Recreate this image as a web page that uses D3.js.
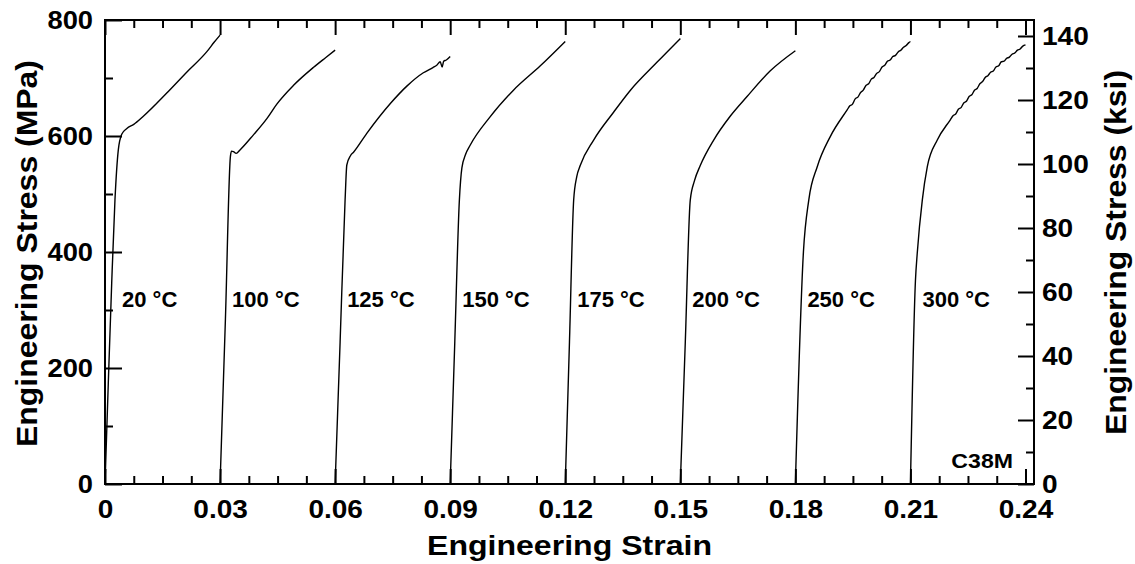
<!DOCTYPE html>
<html>
<head>
<meta charset="utf-8">
<script src="https://cdn.jsdelivr.net/npm/d3@7"></script>
<style>
  body { margin: 0; background: #fff; }
  text { font-family: "Liberation Sans", Arial, sans-serif; font-weight: bold; fill: #000; }
</style>
</head>
<body>
<svg id="chart" width="1135" height="564"></svg>
<script>
// Tensile curves of C38M at several test temperatures.
// Each curve is stored as [strain, stress(MPa)] measured from its own start;
// curves are shifted along the strain axis by 0.03 each for readability.
const temperatures = ["20 °C", "100 °C", "125 °C", "150 °C", "175 °C", "200 °C", "250 °C", "300 °C"];
const strainOffsets = [0, 0.03, 0.06, 0.09, 0.12, 0.15, 0.18, 0.21];

const curve20 = [[0,0],[0.00086,174],[0.00175,347],[0.0026,490],[0.00347,576],[0.00436,603],[0.0057,613],[0.0075,620],[0.010,634],[0.0161,674],[0.0213,710],[0.0265,745],[0.0285,762],[0.03,774]];
const curve100 = [[0,0],[0.0014,285],[0.0027,565],[0.0030,574],[0.0035,573],[0.0042,570],[0.0052,576],[0.0087,602],[0.0122,630],[0.0148,655],[0.0191,687],[0.0243,718],[0.0275,735],[0.03,748]];
const curve125 = [[0,0],[0.0013,245],[0.0026,490],[0.00305,550],[0.0040,566],[0.0048,572],[0.0083,605],[0.0144,656],[0.0187,686],[0.0230,709],[0.0255,718],[0.0265,722],[0.0274,728],[0.0279,719],[0.0283,729],[0.0290,731],[0.03,737]];
const curve150 = [[0,0],[0.0012,245],[0.0024,490],[0.00305,545],[0.0040,568],[0.0052,584],[0.0104,633],[0.0165,679],[0.0235,721],[0.03,763]];
const curve175 = [[0,0],[0.0011,245],[0.0022,490],[0.0030,530],[0.0039,549],[0.0074,593],[0.0126,641],[0.0170,679],[0.0239,727],[0.03,768]];
const curve200 = [[0,0],[0.0013,245],[0.0026,490],[0.0037,523],[0.0052,549],[0.0087,593],[0.0130,634],[0.0174,668],[0.0234,712],[0.03,747]];
const curve250 = [[0,0],[0.0021,400],[0.0035,490],[0.0057,547],[0.0091,599],[0.0135,645],[0.0142,652],[0.0149,655],[0.0156,664],[0.0163,667],[0.0170,675],[0.0177,679],[0.0184,687],[0.0191,690],[0.0198,698],[0.0205,701],[0.0212,708],[0.0219,711],[0.0226,719],[0.0233,722],[0.0240,729],[0.0247,731],[0.0254,737],[0.0261,739],[0.0268,745],[0.0275,748],[0.0282,753],[0.0289,756],[0.0296,761],[0.03,763]];
const curve300 = [[0,0],[0.0013,350],[0.0018,400],[0.0031,490],[0.0044,547],[0.0070,593],[0.0104,628],[0.0111,635],[0.0118,638],[0.0125,646],[0.0132,649],[0.0139,657],[0.0146,660],[0.0153,668],[0.0160,671],[0.0167,679],[0.0174,682],[0.0181,690],[0.0188,694],[0.0195,701],[0.0202,704],[0.0209,710],[0.0216,712],[0.0223,719],[0.0230,721],[0.0237,728],[0.0244,729],[0.0251,734],[0.0258,736],[0.0265,741],[0.0272,743],[0.0279,748],[0.0286,750],[0.0293,755],[0.03,757]];
const curves = [curve20, curve100, curve125, curve150, curve175, curve200, curve250, curve300];

// Axis ticks and labels
const strainTicks = [0, 0.03, 0.06, 0.09, 0.12, 0.15, 0.18, 0.21, 0.24];
const strainTickLabels = ["0", "0.03", "0.06", "0.09", "0.12", "0.15", "0.18", "0.21", "0.24"];
const strainMinorTicks = [0.0075, 0.015, 0.0225, 0.0375, 0.045, 0.0525, 0.0675, 0.075, 0.0825, 0.0975, 0.105, 0.1125, 0.1275, 0.135, 0.1425, 0.1575, 0.165, 0.1725, 0.1875, 0.195, 0.2025, 0.2175, 0.225, 0.2325];
const mpaTicks = [0, 200, 400, 600, 800];
const mpaTickLabels = ["0", "200", "400", "600", "800"];
const mpaMinorTicks = [100, 300, 500, 700];
const ksiTicks = [0, 20, 40, 60, 80, 100, 120, 140];
const ksiTickLabels = ["0", "20", "40", "60", "80", "100", "120", "140"];
const ksiMinorTicks = [10, 30, 50, 70, 90, 110, 130];

const xTitle = "Engineering Strain";
const yTitle = "Engineering Stress (MPa)";
const y2Title = "Engineering Stress (ksi)";
const materialLabel = "C38M";

// Layout
const plotLeft = 105, plotTop = 20, plotBottom = 484;
const x = d3.scaleLinear().domain([0, 0.24]).range([plotLeft, 1025.5]);
const frameRight = 1034;
const y = d3.scaleLinear().domain([0, 800]).range([plotBottom, plotTop]);
const yKsi = d3.scaleLinear().domain([0, 140]).range([plotBottom, 36]);

const svg = d3.select("#chart");

// widen glyphs slightly, as in the published figure
function stretch(sel, k) {
  sel.each(function () {
    const w = this.getComputedTextLength();
    d3.select(this).attr("textLength", w * k).attr("lengthAdjust", "spacingAndGlyphs");
  });
}

function styleAxis(g) {
  g.select(".domain").remove();
  g.selectAll(".tick line").attr("stroke", "#000").attr("stroke-width", 2);
  g.attr("font-family", null).attr("font-size", null);
}

// Bottom axis
const gB = svg.append("g").attr("transform", `translate(0,${plotBottom})`)
  .call(d3.axisBottom(x).tickValues(strainTicks).tickSize(-15).tickPadding(16)
    .tickFormat((d, i) => strainTickLabels[i]))
  .call(styleAxis);
gB.selectAll(".tick text").style("font-size", "25px").attr("y", 16);
stretch(gB.selectAll(".tick text"), 1.12);
svg.append("g").attr("transform", `translate(0,${plotBottom})`)
  .call(d3.axisBottom(x).tickValues(strainMinorTicks).tickSize(-8).tickFormat(""))
  .call(styleAxis);

// Top axis (ticks only)
svg.append("g").attr("transform", `translate(0,${plotTop})`)
  .call(d3.axisTop(x).tickValues(strainTicks).tickSize(-15).tickFormat(""))
  .call(styleAxis);
svg.append("g").attr("transform", `translate(0,${plotTop})`)
  .call(d3.axisTop(x).tickValues(strainMinorTicks).tickSize(-8).tickFormat(""))
  .call(styleAxis);

// Left axis (MPa)
const gL = svg.append("g").attr("transform", `translate(${plotLeft},0)`)
  .call(d3.axisLeft(y).tickValues(mpaTicks).tickSize(-17).tickPadding(12)
    .tickFormat((d, i) => mpaTickLabels[i]))
  .call(styleAxis);
gL.selectAll(".tick text").style("font-size", "26px").attr("x", -12);
stretch(gL.selectAll(".tick text"), 1.05);
svg.append("g").attr("transform", `translate(${plotLeft},0)`)
  .call(d3.axisLeft(y).tickValues(mpaMinorTicks).tickSize(-8).tickFormat(""))
  .call(styleAxis);

// Right axis (ksi)
const gR = svg.append("g").attr("transform", `translate(${frameRight},0)`)
  .call(d3.axisRight(yKsi).tickValues(ksiTicks).tickSize(-16).tickPadding(8)
    .tickFormat((d, i) => ksiTickLabels[i]))
  .call(styleAxis);
gR.selectAll(".tick text").style("font-size", "26px").attr("x", 8);
stretch(gR.selectAll(".tick text"), 1.08);
svg.append("g").attr("transform", `translate(${frameRight},0)`)
  .call(d3.axisRight(yKsi).tickValues(ksiMinorTicks).tickSize(-8).tickFormat(""))
  .call(styleAxis);

// Frame
svg.append("rect")
  .attr("x", plotLeft).attr("y", plotTop)
  .attr("width", frameRight - plotLeft).attr("height", plotBottom - plotTop)
  .attr("fill", "none").attr("stroke", "#000").attr("stroke-width", 2);

// Curves
const line = d3.line().curve(d3.curveMonotoneX);
curves.forEach((c, i) => {
  const off = strainOffsets[i];
  svg.append("path")
    .attr("d", line(c.map(p => [x(p[0] + off), y(p[1])])))
    .attr("fill", "none")
    .attr("stroke", "#000")
    .attr("stroke-width", 1.4)
    .attr("stroke-linejoin", "round");
});

// Temperature labels beside the elastic part of each curve
temperatures.forEach((t, i) => {
  svg.append("text")
    .attr("x", x(strainOffsets[i]) + (i === 0 ? 17 : 12))
    .attr("y", 306.5)
    .style("font-size", "22px")
    .text(t);
});

// Material label
const mat = svg.append("text")
  .attr("x", 1013).attr("y", 468)
  .attr("text-anchor", "end")
  .style("font-size", "21px")
  .text(materialLabel);
stretch(mat, 1.1);

// Axis titles
svg.append("text")
  .attr("x", (plotLeft + frameRight) / 2).attr("y", 555)
  .attr("text-anchor", "middle")
  .style("font-size", "28px")
  .attr("textLength", 285).attr("lengthAdjust", "spacingAndGlyphs")
  .text(xTitle);

svg.append("text")
  .attr("transform", `translate(37,${(plotTop + plotBottom) / 2 + 1.5}) rotate(-90)`)
  .attr("text-anchor", "middle")
  .style("font-size", "29px")
  .attr("textLength", 387).attr("lengthAdjust", "spacingAndGlyphs")
  .text(yTitle);

svg.append("text")
  .attr("transform", `translate(1126,${(plotTop + plotBottom) / 2 + 0.5}) rotate(-90)`)
  .attr("text-anchor", "middle")
  .style("font-size", "29px")
  .attr("textLength", 365).attr("lengthAdjust", "spacingAndGlyphs")
  .text(y2Title);
</script>
</body>
</html>
